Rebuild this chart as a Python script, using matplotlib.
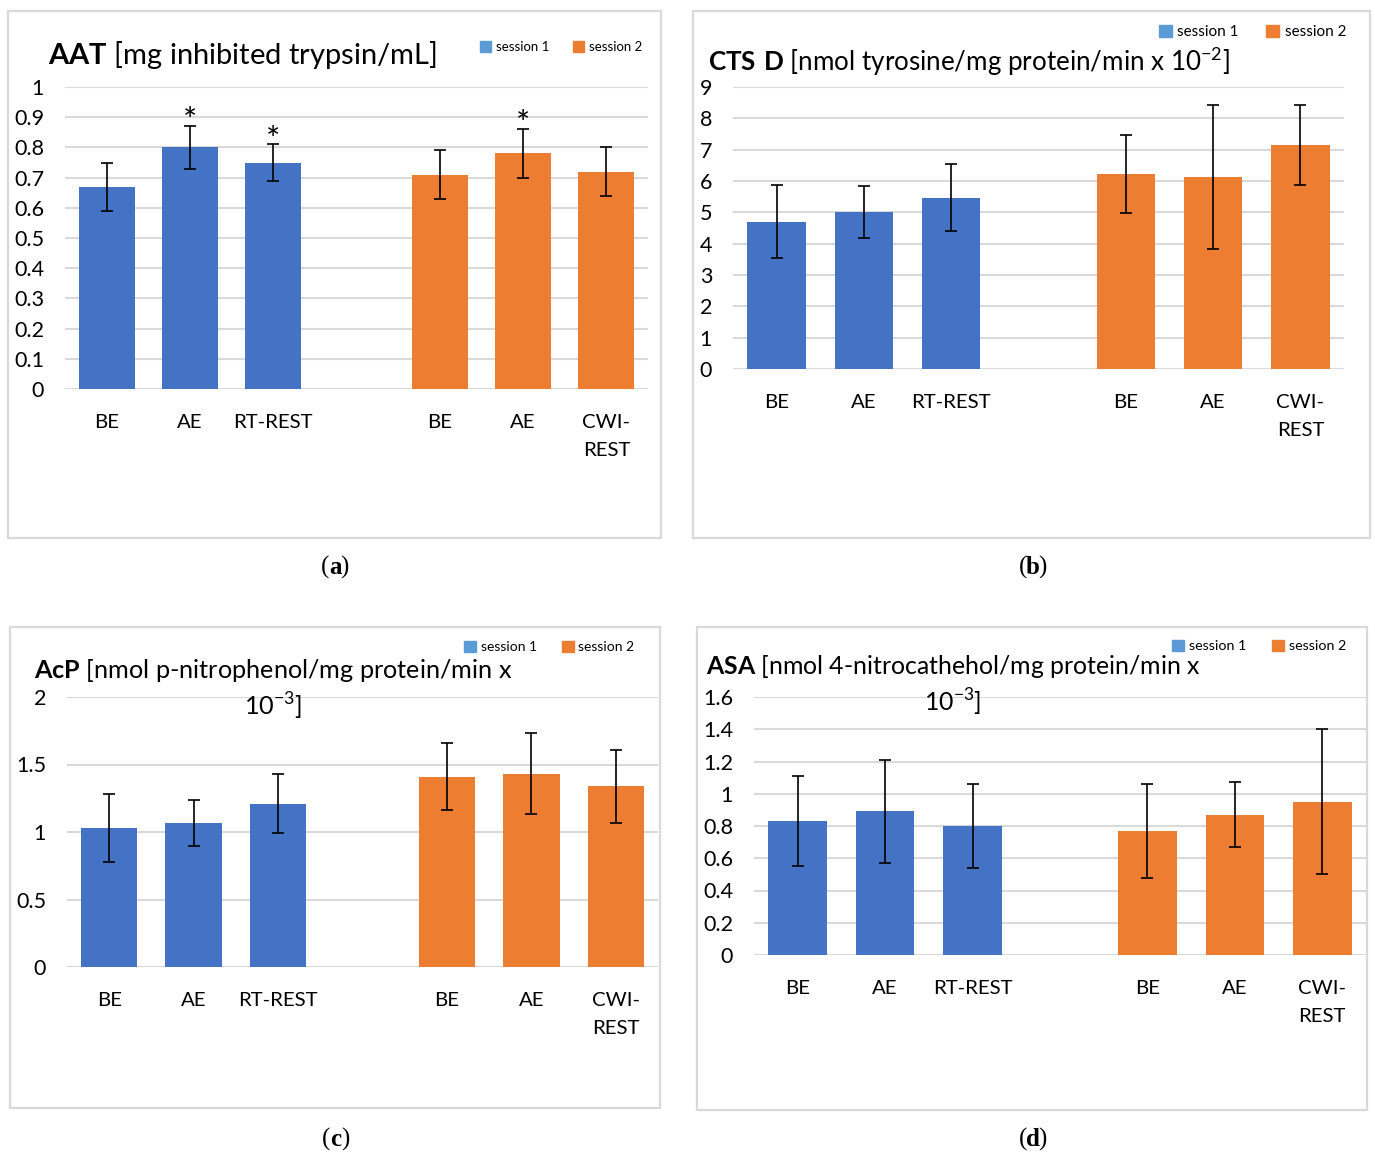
import matplotlib.pyplot as plt
from matplotlib.patches import Rectangle, Patch

plt.rcParams['font.family'] = ['Lato', 'DejaVu Sans']
plt.rcParams['mathtext.fontset'] = 'custom'
plt.rcParams['mathtext.rm'] = 'Lato'
plt.rcParams['mathtext.bf'] = 'Lato:bold'

# categories: session 1 on the left, an empty slot, session 2 on the right
categories = ['BE', 'AE', 'RT-REST', '', 'BE', 'AE', 'CWI-\nREST']
s1_pos = [0, 1, 2]
s2_pos = [4, 5, 6]

aat_s1 = [0.67, 0.80, 0.75]
aat_s1_err = [0.08, 0.07, 0.06]
aat_s2 = [0.71, 0.78, 0.72]
aat_s2_err = [0.08, 0.08, 0.08]
aat_star_s1 = [1, 2]
aat_star_s2 = [1]

ctsd_s1 = [4.70, 5.00, 5.47]
ctsd_s1_err = [1.17, 0.83, 1.07]
ctsd_s2 = [6.22, 6.13, 7.15]
ctsd_s2_err = [1.25, 2.30, 1.28]

acp_s1 = [1.03, 1.07, 1.21]
acp_s1_err = [0.25, 0.17, 0.22]
acp_s2 = [1.41, 1.43, 1.34]
acp_s2_err = [0.25, 0.30, 0.27]

asa_s1 = [0.83, 0.89, 0.80]
asa_s1_err = [0.28, 0.32, 0.26]
asa_s2 = [0.77, 0.87, 0.95]
asa_s2_err = [0.29, 0.20, 0.45]

BLUE = '#4472C4'
BLUE_LEG = '#5B9BD5'
ORANGE = '#ED7D31'
GRID = '#D9D9D9'

W, H = 1375, 1153
fig = plt.figure(figsize=(W / 100, H / 100), dpi=100)


def fx(px):
    return px / W


def fy(py):
    return 1 - py / H


def frame(x0, y0, x1, y1):
    fig.add_artist(Rectangle((fx(x0), fy(y1)), (x1 - x0) / W, (y1 - y0) / H,
                             transform=fig.transFigure, fill=False,
                             edgecolor=GRID, lw=1.6))


def panel(box, ymax, step, s1, e1, s2, e2):
    x0, y0, x1, y1 = box
    ax = fig.add_axes([fx(x0), fy(y1), (x1 - x0) / W, (y1 - y0) / H])
    ax.bar(s1_pos, s1, width=0.67, color=BLUE, zorder=2)
    ax.bar(s2_pos, s2, width=0.67, color=ORANGE, zorder=2)
    ax.errorbar(s1_pos, s1, yerr=e1, fmt='none', ecolor='black',
                elinewidth=1.2, capsize=4.5, capthick=1.2, zorder=3)
    ax.errorbar(s2_pos, s2, yerr=e2, fmt='none', ecolor='black',
                elinewidth=1.2, capsize=4.5, capthick=1.2, zorder=3)
    ax.set_xlim(-0.5, 6.5)
    ax.set_ylim(0, ymax)
    n = int(round(ymax / step))
    ticks = [i * step for i in range(n + 1)]
    ax.set_yticks(ticks)
    ax.set_yticklabels([f'{t:g}' for t in ticks])
    ax.set_xticks(range(7))
    ax.set_xticklabels(categories, linespacing=1.8)
    ax.tick_params(axis='y', length=0, pad=15, labelsize=15.5)
    ax.tick_params(axis='x', length=0, pad=18, labelsize=14.7)
    ax.yaxis.grid(True, color=GRID, lw=1.5)
    ax.set_axisbelow(True)
    for s in ax.spines.values():
        s.set_visible(False)
    ax.patch.set_alpha(0)
    return ax


def legend(x, y, size, spacing):
    handles = [Patch(color=BLUE_LEG), Patch(color=ORANGE)]
    fig.legend(handles, ['session 1', 'session 2'], loc='center left',
               bbox_to_anchor=(fx(x), fy(y)), ncol=2, frameon=False,
               fontsize=size, handlelength=0.85, handleheight=0.85,
               handletextpad=0.35, columnspacing=spacing,
               borderpad=0, borderaxespad=0)


def caption(x, y, letter):
    fig.text(fx(x), fy(y), letter, ha='center', va='center', fontsize=18,
             fontweight='bold', family='Liberation Serif')
    fig.text(fx(x - 5.5), fy(y), '(', ha='right', va='center', fontsize=18,
             family='Liberation Serif')
    fig.text(fx(x + 5.5), fy(y), ')', ha='left', va='center', fontsize=18,
             family='Liberation Serif')


def wrapped_title(cx, y1, y2, line1, line2, size):
    fig.text(fx(cx), fy(y1), line1, ha='center', va='center', fontsize=size)
    fig.text(fx(cx), fy(y2), line2, ha='center', va='center', fontsize=size)


# panel frames
frame(8, 11, 661, 538)
frame(693, 11, 1370, 538)
frame(10, 627, 660, 1108)
frame(697, 627, 1367, 1110)

# (a) AAT
ax = panel((65, 87, 648, 389), 1.0, 0.1, aat_s1, aat_s1_err, aat_s2, aat_s2_err)
for i in aat_star_s1:
    ax.text(s1_pos[i], aat_s1[i] + aat_s1_err[i] - 0.017, '*', ha='center',
            va='baseline', fontsize=24)
for i in aat_star_s2:
    ax.text(s2_pos[i], aat_s2[i] + aat_s2_err[i] - 0.017, '*',
            ha='center', va='baseline', fontsize=24)
fig.text(fx(48), fy(55), r'$\mathbf{AAT}$ [mg inhibited trypsin/mL]',
         ha='left', va='center', fontsize=21)
legend(480, 47, 9.5, 1.8)
caption(335, 567, 'a')

# (b) CTS D
panel((733, 87, 1344, 369), 9, 1, ctsd_s1, ctsd_s1_err, ctsd_s2, ctsd_s2_err)
fig.text(fx(708), fy(61),
         r'$\mathbf{CTS\ D}$ [nmol tyrosine/mg protein/min x 10$^{-2}$]',
         ha='left', va='center', fontsize=18.7)
legend(1159, 32, 11, 1.8)
caption(1033, 567, 'b')

# (c) AcP
panel((67, 697, 658, 967), 2.0, 0.5, acp_s1, acp_s1_err, acp_s2, acp_s2_err)
wrapped_title(273, 671, 706,
              r'$\mathbf{AcP}$ [nmol p-nitrophenol/mg protein/min x',
              r'10$^{-3}$]', 18.2)
legend(464, 647, 10, 1.8)
caption(336, 1139, 'c')

# (d) ASA
panel((754, 697, 1366, 955), 1.6, 0.2, asa_s1, asa_s1_err, asa_s2, asa_s2_err)
wrapped_title(953, 667, 702,
              r'$\mathbf{ASA}$ [nmol 4-nitrocathehol/mg protein/min x',
              r'10$^{-3}$]', 17.9)
legend(1172, 646, 10.3, 1.8)
caption(1033, 1139, 'd')

fig.savefig('out.png', dpi=100)
